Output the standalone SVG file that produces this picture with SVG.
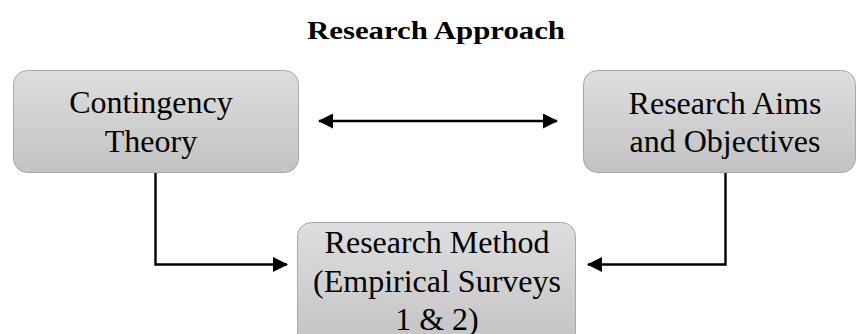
<svg xmlns="http://www.w3.org/2000/svg" width="857" height="334" viewBox="0 0 857 334">
  <style>
    .box { stroke: #a6a6a6; stroke-width: 1; fill: url(#boxFill); }
    .label { font-family: "Liberation Serif", "DejaVu Serif", serif; font-size: 32px; fill: #000; text-anchor: middle; }
    .title { font-family: "Liberation Serif", "DejaVu Serif", serif; font-size: 25px; font-weight: bold; fill: #000; text-anchor: middle; }
    .link { stroke: #000; stroke-width: 2.4; fill: none; }
  </style>
  <defs>
    <linearGradient id="boxFill" x1="0" y1="0" x2="0" y2="1">
      <stop offset="0" stop-color="#dedede"/>
      <stop offset="1" stop-color="#c2c2c2"/>
    </linearGradient>
    <marker id="head" viewBox="0 0 15 15" refX="14" refY="7.5" markerWidth="15" markerHeight="15" markerUnits="userSpaceOnUse" orient="auto-start-reverse">
      <path d="M0,0 L15,7.5 L0,15 Z" fill="#000"/>
    </marker>
  </defs>

  <text class="title" x="436" y="39" textLength="258" lengthAdjust="spacingAndGlyphs">Research Approach</text>

  <g id="contingency-theory">
    <rect class="box" x="13.5" y="70.5" width="285" height="102" rx="14"/>
    <text class="label" x="151" y="113">Contingency</text>
    <text class="label" x="151" y="152">Theory</text>
  </g>

  <g id="research-aims">
    <rect class="box" x="583.5" y="70.5" width="272" height="102" rx="14"/>
    <text class="label" x="725" y="114">Research Aims</text>
    <text class="label" x="725" y="152">and Objectives</text>
  </g>

  <g id="research-method">
    <rect class="box" x="297.5" y="222.5" width="278" height="130" rx="14"/>
    <text class="label" x="437" y="253">Research Method</text>
    <text class="label" x="437" y="292">(Empirical Surveys</text>
    <text class="label" x="437" y="330">1 &amp; 2)</text>
  </g>

  <g id="connectors">
    <line class="link" x1="319" y1="121" x2="557" y2="121" marker-start="url(#head)" marker-end="url(#head)"/>
    <polyline class="link" points="155.5,173 155.5,264.5 287,264.5" marker-end="url(#head)"/>
    <polyline class="link" points="725.5,173 725.5,264.5 588,264.5" marker-end="url(#head)"/>
  </g>
</svg>
